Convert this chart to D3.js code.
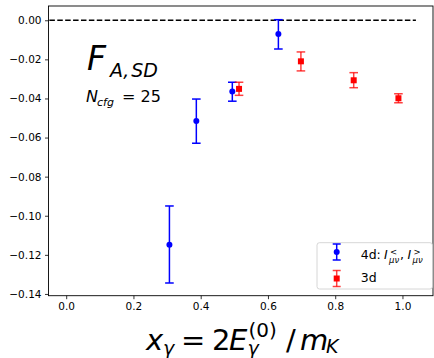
<!DOCTYPE html>
<html>
<head>
<meta charset="utf-8">
<script src="https://cdn.jsdelivr.net/npm/d3@7"></script>
<style>
  html, body { margin: 0; padding: 0; background: #fff; }
  svg { display: block; font-family: "DejaVu Sans", sans-serif; }
  .tick text { font-size: 10.5px; fill: #000; }
</style>
</head>
<body>
<div id="chart"></div>
<script>
// F_A,SD vs x_gamma — 4d and 3d errorbar series

const xTicks = [0.0, 0.2, 0.4, 0.6, 0.8, 1.0];
const yTicks = [0.00, -0.02, -0.04, -0.06, -0.08, -0.10, -0.12, -0.14];

// 4d: I<, I>
const x4d = [0.307, 0.387, 0.494, 0.631];
const y4d = [-0.1148, -0.0515, -0.0365, -0.0070];
const e4dLo = [-0.1344, -0.0629, -0.0414, -0.0147];
const e4dHi = [-0.0950, -0.0403, -0.0317, 0.0003];

// 3d
const x3d = [0.514, 0.698, 0.855, 0.988];
const y3d = [-0.0351, -0.0210, -0.0307, -0.0399];
const e3dLo = [-0.0384, -0.0259, -0.0345, -0.0422];
const e3dHi = [-0.0317, -0.0162, -0.0268, -0.0376];

const W = 434, H = 358;
const L = 48.5, R = 433, T = 6, B = 295.7;

const svg = d3.select('#chart').append('svg')
  .attr('width', W).attr('height', H);

const x = d3.scaleLinear().domain([-0.0526, 1.0908]).range([L, R]);
const y = d3.scaleLinear().domain([0.0073, -0.1409]).range([T, B]);

const minus = (s) => s.replace('-', '\u2212');

// axes
const gx = svg.append('g').attr('transform', `translate(0,${B})`)
  .call(d3.axisBottom(x).tickValues(xTicks).tickFormat((d) => minus(d3.format('.1f')(d))).tickSize(3.5).tickPadding(3.5));
const gy = svg.append('g').attr('transform', `translate(${L},0)`)
  .call(d3.axisLeft(y).tickValues(yTicks).tickFormat((d) => minus(d3.format('.2f')(d))).tickSize(3.5).tickPadding(3.5));
[gx, gy].forEach((g) => {
  g.select('.domain').remove();
  g.selectAll('.tick line').attr('stroke', '#000').attr('stroke-width', 0.8);
  g.selectAll('.tick text').attr('font-family', 'DejaVu Sans');
});

svg.append('rect')
  .attr('x', L).attr('y', T).attr('width', R - L).attr('height', B - T)
  .attr('fill', 'none').attr('stroke', '#000').attr('stroke-width', 0.9);

// zero line
svg.append('line')
  .attr('x1', x(-0.05)).attr('x2', x(1.04))
  .attr('y1', y(0)).attr('y2', y(0))
  .attr('stroke', '#000').attr('stroke-width', 1.5)
  .attr('stroke-dasharray', '5.5,2.4');

function errSeries(xs, ys, lo, hi, color, shape, barOpacity) {
  const g = svg.append('g');
  const pts = xs.map((v, i) => ({ x: v, y: ys[i], lo: lo[i], hi: hi[i] }));
  const cap = 4.3;
  const sel = g.selectAll('g').data(pts).join('g');
  sel.append('line')
    .attr('x1', (d) => x(d.x)).attr('x2', (d) => x(d.x))
    .attr('y1', (d) => y(d.lo)).attr('y2', (d) => y(d.hi))
    .attr('stroke', color).attr('stroke-width', 1.5).attr('stroke-opacity', barOpacity);
  ['lo', 'hi'].forEach((k) => {
    sel.append('line')
      .attr('x1', (d) => x(d.x) - cap).attr('x2', (d) => x(d.x) + cap)
      .attr('y1', (d) => y(d[k])).attr('y2', (d) => y(d[k]))
      .attr('stroke', color).attr('stroke-width', 1.5).attr('stroke-opacity', barOpacity);
  });
  if (shape === 'circle') {
    sel.append('circle').attr('cx', (d) => x(d.x)).attr('cy', (d) => y(d.y))
      .attr('r', 3).attr('fill', color);
  } else {
    sel.append('rect').attr('x', (d) => x(d.x) - 3).attr('y', (d) => y(d.y) - 3)
      .attr('width', 6).attr('height', 6).attr('fill', color);
  }
}

errSeries(x4d, y4d, e4dLo, e4dHi, '#0000ff', 'circle', 1);
errSeries(x3d, y3d, e3dLo, e3dHi, '#ff0000', 'square', 0.75);

// text pieces placed one by one (math-like layout)
function piece(px, py, str, size, italic) {
  return svg.append('text').attr('x', px).attr('y', py)
    .attr('font-size', size).attr('font-style', italic ? 'italic' : 'normal')
    .attr('fill', '#000').text(str);
}

// big label F_{A,SD}
piece(87, 69.5, 'F', 33, true);
piece(110, 76.7, 'A,\u200ASD', 19, true);

// N_cfg = 25
piece(86, 101.7, 'N', 16, true);
piece(97, 105.5, 'cfg', 11, true);
piece(122, 101.7, '= 25', 16, false);

// x label: x_γ = 2E_γ^(0) / m_K
piece(146, 350, 'x', 29, true);
piece(163, 354.5, 'γ', 19, true);
piece(181, 350, '=', 29, false);
piece(212, 350, '2', 29, false);
piece(229, 350, 'E', 29, true);
piece(248.5, 337, '(0)', 20, false);
piece(247.5, 354.5, 'γ', 19, true);
piece(286, 350, '/', 29, false);
piece(300, 350, 'm', 29, true);
piece(326, 353.3, 'K', 19, true);

// legend
const lg = svg.append('g');
lg.append('rect').attr('x', 317).attr('y', 242.7).attr('width', 115.5).attr('height', 46.3)
  .attr('rx', 2.5).attr('fill', '#fff').attr('fill-opacity', 0.8)
  .attr('stroke', '#ccc').attr('stroke-width', 0.8);
const legItems = [
  { color: '#0000ff', shape: 'circle', y: 252, op: 1 },
  { color: '#ff0000', shape: 'square', y: 278.5, op: 0.75 },
];
legItems.forEach((d) => {
  const cx = 336.7;
  lg.append('line').attr('x1', cx).attr('x2', cx).attr('y1', d.y - 8).attr('y2', d.y + 8)
    .attr('stroke', d.color).attr('stroke-width', 1.5).attr('stroke-opacity', d.op);
  [-8, 8].forEach((o) => lg.append('line').attr('x1', cx - 4).attr('x2', cx + 4)
    .attr('y1', d.y + o).attr('y2', d.y + o)
    .attr('stroke', d.color).attr('stroke-width', 1.5).attr('stroke-opacity', d.op));
  if (d.shape === 'circle') lg.append('circle').attr('cx', cx).attr('cy', d.y).attr('r', 3).attr('fill', d.color);
  else lg.append('rect').attr('x', cx - 3).attr('y', d.y - 3).attr('width', 6).attr('height', 6).attr('fill', d.color);
});
piece(360.7, 259.3, '4d:', 12.5, false);
piece(384, 259.3, 'I', 12.5, true);
piece(390, 255, '<', 8.5, false);
piece(389, 263, 'μν', 8.5, true);
piece(400, 259.3, ',', 12.5, false);
piece(407.5, 259.3, 'I', 12.5, true);
piece(413.5, 255, '>', 8.5, false);
piece(412.5, 263, 'μν', 8.5, true);
piece(360.7, 281.7, '3d', 12.5, false);
</script>
</body>
</html>
